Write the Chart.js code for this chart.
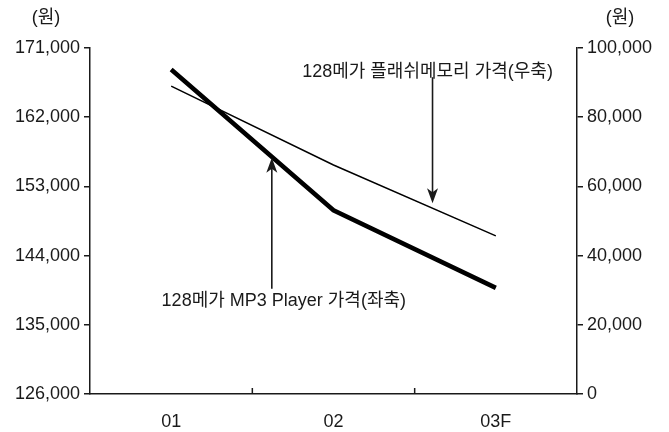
<!DOCTYPE html>
<html>
<head>
<meta charset="utf-8">
<script src="https://cdn.jsdelivr.net/npm/chart.js@4"></script>
<style>
    html, body { margin: 0; padding: 0; background: #fff; }
    #wrap { width: 669px; height: 432px; position: relative; }
</style>
</head>
<body>
<div id="wrap"><canvas id="priceChart" width="669" height="432"></canvas></div>
<script>
var categories = ['01', '02', '03F'];
var mp3Prices = [168200, 149900, 139800];      // left axis
var flashPrices = [89000, 66200, 45700];       // right axis
var leftTicks = [126000, 135000, 144000, 153000, 162000, 171000];
var rightTicks = [0, 20000, 40000, 60000, 80000, 100000];

var FONT = '"Liberation Sans", "Noto Sans CJK KR", sans-serif';
var INK = '#1a1a1a';

// text + arrow pointing at a spot on a series (index is a fractional category position)
var notes = [
    { text: '128메가 MP3 Player 가격(좌축)', dataset: 0, index: 0.62, tipGap: 1, tailDy: 131, textDx: 12, textDy: 144 },
    { text: '128메가 플래쉬메모리 가격(우축)', dataset: 1, index: 1.61, tipGap: 5, tailDy: -126, textDx: -5, textDy: -136 }
];

function fmt(v) {
    return v.toLocaleString('en-US');
}

var annotatePlugin = {
    id: 'annotate',
    afterDraw: function (chart) {
        var ctx = chart.ctx;
        var x = chart.scales.x;
        var area = chart.chartArea;
        ctx.save();

        // small inward ticks on the x axis at category boundaries
        ctx.strokeStyle = INK;
        ctx.lineWidth = 1.5;
        for (var i = 0; i < categories.length - 1; i++) {
            var bx = (x.getPixelForValue(i) + x.getPixelForValue(i + 1)) / 2;
            ctx.beginPath();
            ctx.moveTo(bx, area.bottom);
            ctx.lineTo(bx, area.bottom - 6);
            ctx.stroke();
        }

        // unit labels
        ctx.fillStyle = INK;
        ctx.font = '18px ' + FONT;
        ctx.textAlign = 'center';
        ctx.textBaseline = 'middle';
        ctx.fillText('(원)', 46, 18);
        ctx.fillText('(원)', 620, 18);

        // notes with arrows
        notes.forEach(function (n) {
            var ds = chart.data.datasets[n.dataset];
            var ys = chart.scales[ds.yAxisID];
            var i0 = Math.floor(n.index);
            var f = n.index - i0;
            var v = ds.data[i0] + (ds.data[i0 + 1] - ds.data[i0]) * f;
            var px = x.getPixelForValue(i0) + (x.getPixelForValue(i0 + 1) - x.getPixelForValue(i0)) * f;
            var py = ys.getPixelForValue(v);
            var dir = n.tailDy > 0 ? 1 : -1;
            var tipY = py + dir * n.tipGap;
            var tailY = tipY + n.tailDy;

            ctx.strokeStyle = INK;
            ctx.lineWidth = 1.6;
            ctx.beginPath();
            ctx.moveTo(px, tailY);
            ctx.lineTo(px, tipY + dir * 8);
            ctx.stroke();
            ctx.fillStyle = INK;
            ctx.beginPath();
            ctx.moveTo(px, tipY);
            ctx.lineTo(px - 5.5, tipY + dir * 15);
            ctx.lineTo(px, tipY + dir * 11);
            ctx.lineTo(px + 5.5, tipY + dir * 15);
            ctx.closePath();
            ctx.fill();

            ctx.font = '18px ' + FONT;
            ctx.textAlign = 'center';
            ctx.textBaseline = 'middle';
            ctx.fillText(n.text, px + n.textDx, py + n.textDy);
        });

        ctx.restore();
    }
};

new Chart(document.getElementById('priceChart').getContext('2d'), {
    type: 'line',
    data: {
        labels: categories,
        datasets: [
            {
                label: '128메가 MP3 Player 가격(좌축)',
                data: mp3Prices,
                yAxisID: 'yLeft',
                borderColor: '#000',
                borderWidth: 4.5,
                pointRadius: 0,
                tension: 0,
                fill: false
            },
            {
                label: '128메가 플래쉬메모리 가격(우축)',
                data: flashPrices,
                yAxisID: 'yRight',
                borderColor: '#000',
                borderWidth: 1.5,
                pointRadius: 0,
                tension: 0,
                fill: false
            }
        ]
    },
    options: {
        responsive: false,
        animation: false,
        devicePixelRatio: 1,
        layout: {
            padding: { top: 48, right: 0, bottom: 0, left: 0 }
        },
        plugins: {
            legend: { display: false },
            tooltip: { enabled: false }
        },
        scales: {
            x: {
                offset: true,
                grid: { display: false, offset: true },
                border: { color: INK, width: 1.5 },
                ticks: {
                    color: INK,
                    padding: 9,
                    font: { family: FONT, size: 18 }
                },
                afterFit: function (scale) { scale.height = 38; }
            },
            yLeft: {
                position: 'left',
                min: leftTicks[0],
                max: leftTicks[leftTicks.length - 1],
                afterBuildTicks: function (scale) {
                    scale.ticks = leftTicks.map(function (v) { return { value: v }; });
                },
                grid: { drawOnChartArea: false, tickLength: 6, color: INK, lineWidth: 1.5 },
                border: { color: INK, width: 1.5 },
                ticks: {
                    color: INK,
                    padding: 4,
                    font: { family: FONT, size: 18 },
                    callback: function (v) { return fmt(v); }
                },
                afterFit: function (scale) { scale.width = 90; }
            },
            yRight: {
                position: 'right',
                min: rightTicks[0],
                max: rightTicks[rightTicks.length - 1],
                afterBuildTicks: function (scale) {
                    scale.ticks = rightTicks.map(function (v) { return { value: v }; });
                },
                grid: { drawOnChartArea: false, tickLength: 6, color: INK, lineWidth: 1.5 },
                border: { color: INK, width: 1.5 },
                ticks: {
                    color: INK,
                    padding: 4,
                    font: { family: FONT, size: 18 },
                    callback: function (v) { return fmt(v); }
                },
                afterFit: function (scale) { scale.width = 92; }
            }
        }
    },
    plugins: [annotatePlugin]
});
</script>
</body>
</html>
